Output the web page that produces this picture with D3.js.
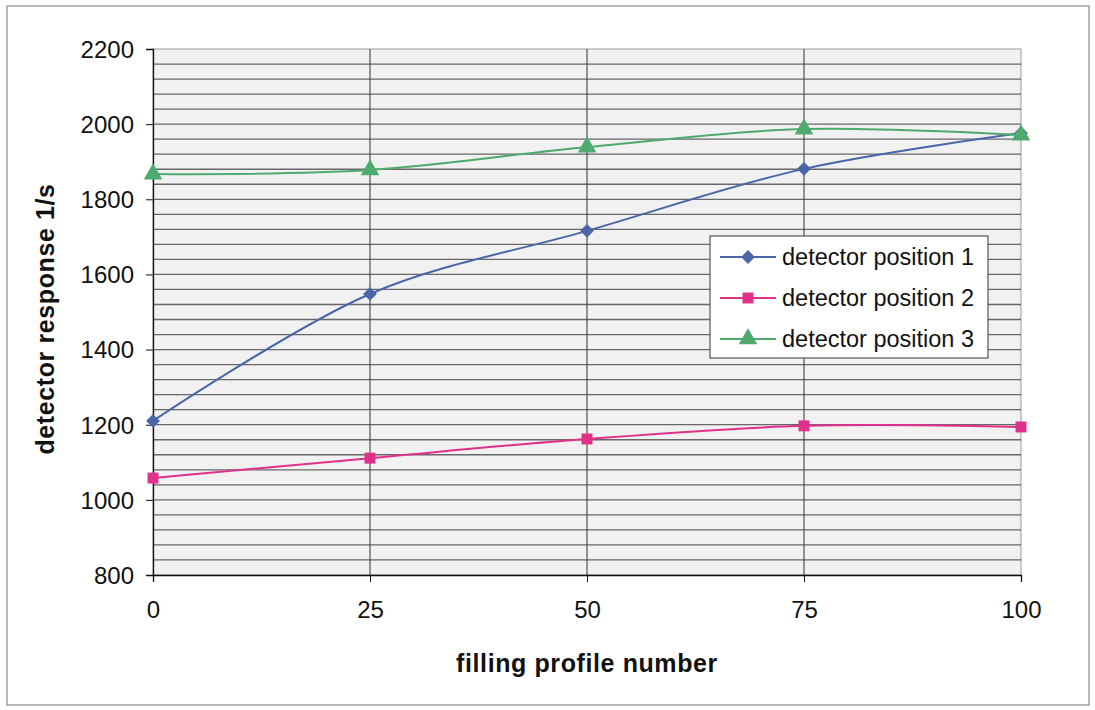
<!DOCTYPE html>
<html>
<head>
<meta charset="utf-8">
<script src="https://cdn.jsdelivr.net/npm/d3@7"></script>
<style>
  body { margin: 0; background: #fff; }
  text { font-family: "Liberation Sans", Arial, sans-serif; fill: #111; }
</style>
</head>
<body>
<svg width="1095" height="710"></svg>
<script>
const profiles = [0, 25, 50, 75, 100];
const position1 = [1210, 1548, 1716, 1881, 1976];
const position2 = [1058, 1111, 1162, 1197, 1194];
const position3 = [1867, 1878, 1939, 1987, 1971];
const seriesNames = ['detector position 1', 'detector position 2', 'detector position 3'];
const yTicks = [800, 1000, 1200, 1400, 1600, 1800, 2000, 2200];

const svg = d3.select('svg');
const width = +svg.attr('width');
const height = +svg.attr('height');

const margin = { top: 49, right: 74, bottom: 135, left: 153 };
const innerWidth = width - margin.left - margin.right;
const innerHeight = height - margin.top - margin.bottom;

// outer frame of the scanned chart
svg.append('rect')
  .attr('x', 7).attr('y', 6)
  .attr('width', 1082).attr('height', 699)
  .attr('fill', 'none')
  .attr('stroke', '#888')
  .attr('stroke-width', 1.2);

const xScale = d3.scaleLinear().domain([0, 100]).range([0, innerWidth]);
const yScale = d3.scaleLinear().domain([800, 2200]).range([innerHeight, 0]);

const g = svg.append('g')
  .attr('transform', `translate(${margin.left},${margin.top})`);

// plot background
g.append('rect')
  .attr('width', innerWidth).attr('height', innerHeight)
  .attr('fill', '#f1f1f1')
  .attr('stroke', '#999');

// horizontal gridlines, every 40
const minorTicks = d3.range(840, 2200, 40);
g.append('g').selectAll('line')
  .data(minorTicks)
  .enter()
  .append('line')
  .attr('x1', 0).attr('x2', innerWidth)
  .attr('y1', d => yScale(d)).attr('y2', d => yScale(d))
  .attr('stroke', '#3a3a3a')
  .attr('stroke-opacity', 0.75)
  .attr('stroke-width', 1.3);

// vertical gridlines
g.append('g').selectAll('line')
  .data([25, 50, 75])
  .enter()
  .append('line')
  .attr('x1', d => xScale(d)).attr('x2', d => xScale(d))
  .attr('y1', 0).attr('y2', innerHeight)
  .attr('stroke', '#333')
  .attr('stroke-width', 1);

// y axis
const yAxis = d3.axisLeft(yScale)
  .tickValues(yTicks)
  .tickSize(7)
  .tickPadding(12)
  .tickFormat(d3.format('d'));
const yAxisG = g.append('g').call(yAxis);
yAxisG.select('.domain').attr('stroke', '#111').attr('stroke-width', 1.3);
yAxisG.selectAll('.tick line').attr('stroke', '#111');
yAxisG.selectAll('text').attr('font-size', 24).attr('dy', '0.35em');

// x axis
const xAxis = d3.axisBottom(xScale)
  .tickValues(profiles)
  .tickSize(7)
  .tickPadding(19);
const xAxisG = g.append('g')
  .attr('transform', `translate(0,${innerHeight})`)
  .call(xAxis);
xAxisG.select('.domain').attr('stroke', '#111').attr('stroke-width', 1.3);
xAxisG.selectAll('.tick line').attr('stroke', '#111');
xAxisG.selectAll('text').attr('font-size', 24);

// axis titles
svg.append('text')
  .text('filling profile number')
  .attr('x', margin.left + innerWidth / 2)
  .attr('y', 672)
  .attr('text-anchor', 'middle')
  .attr('font-size', 25)
  .attr('letter-spacing', 0.6)
  .attr('font-weight', 'bold');

svg.append('text')
  .text('detector response 1/s')
  .attr('transform', 'translate(54,319) rotate(-90)')
  .attr('text-anchor', 'middle')
  .attr('font-size', 25)
  .attr('letter-spacing', 0.6)
  .attr('font-weight', 'bold');

// series
const diamond = {
  draw(context, size) {
    const r = Math.sqrt(size / 2);
    context.moveTo(0, -r);
    context.lineTo(r, 0);
    context.lineTo(0, r);
    context.lineTo(-r, 0);
    context.closePath();
  }
};

const series = [
  { name: seriesNames[0], values: position1, color: '#4a66a8', symbol: diamond, size: 95 },
  { name: seriesNames[1], values: position2, color: '#e0318a', symbol: d3.symbolSquare, size: 120 },
  { name: seriesNames[2], values: position3, color: '#4faa6e', symbol: d3.symbolTriangle, size: 150 }
];

const line = d3.line()
  .x((d, i) => xScale(profiles[i]))
  .y(d => yScale(d))
  .curve(d3.curveCatmullRom.alpha(0.5));

series.forEach(s => {
  g.append('path')
    .datum(s.values)
    .attr('d', line)
    .attr('fill', 'none')
    .attr('stroke', s.color)
    .attr('stroke-width', 2);

  g.append('g').selectAll('path')
    .data(s.values)
    .enter()
    .append('path')
    .attr('d', d3.symbol().type(s.symbol).size(s.size))
    .attr('transform', (d, i) => `translate(${xScale(profiles[i])},${yScale(d)})`)
    .attr('fill', s.color);
});

// legend
const legend = svg.append('g').attr('transform', 'translate(710,236)');
legend.append('rect')
  .attr('width', 278).attr('height', 122)
  .attr('fill', '#fff')
  .attr('stroke', '#555')
  .attr('stroke-width', 1.2);

series.forEach((s, i) => {
  const row = legend.append('g').attr('transform', `translate(0,${21 + i * 41})`);
  row.append('line')
    .attr('x1', 10).attr('x2', 66)
    .attr('stroke', s.color).attr('stroke-width', 2);
  row.append('path')
    .attr('d', d3.symbol().type(s.symbol).size(s.size))
    .attr('transform', 'translate(38,0)')
    .attr('fill', s.color);
  row.append('text')
    .text(s.name)
    .attr('x', 72)
    .attr('dy', '0.35em')
    .attr('font-size', 23.5);
});
</script>
</body>
</html>
